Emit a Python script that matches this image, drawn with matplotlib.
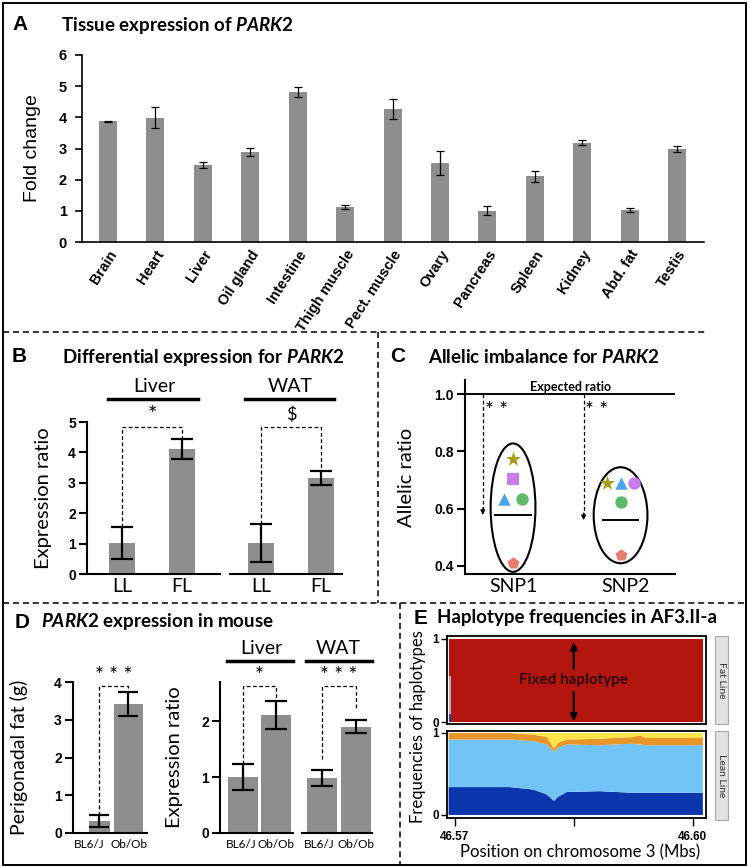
import numpy as np
import matplotlib
matplotlib.use('Agg')
import matplotlib.pyplot as plt
import matplotlib.transforms as mtrans
from matplotlib.lines import Line2D
from matplotlib.patches import Ellipse, Rectangle

# ---- data ----
# A: tissue expression
tissues = ['Brain', 'Heart', 'Liver', 'Oil gland', 'Intestine', 'Thigh muscle', 'Pect. muscle',
           'Ovary', 'Pancreas', 'Spleen', 'Kidney', 'Abd. fat', 'Testis']
tissue_fc = [3.87, 3.99, 2.47, 2.89, 4.80, 1.12, 4.27, 2.54, 1.01, 2.11, 3.19, 1.03, 2.98]
tissue_err = [0.02, 0.33, 0.09, 0.13, 0.16, 0.07, 0.32, 0.38, 0.15, 0.17, 0.08, 0.07, 0.10]

# B: differential expression, lean line (LL) vs fat line (FL)
lines_b = ['LL', 'FL']
b_liver = [1.03, 4.11]
b_liver_err = [0.53, 0.34]
b_wat = [1.02, 3.15]
b_wat_err = [0.64, 0.23]

# C: allelic imbalance
snps = ['SNP1', 'SNP2']
snp1_vals = [0.773, 0.703, 0.633, 0.633, 0.41]
snp2_vals = [0.69, 0.69, 0.69, 0.624, 0.44]
snp_means = [0.578, 0.56]
expected_ratio = 1.0

# D: mouse
strains = ['BL6/J', 'Ob/Ob']
d_fat = [0.32, 3.42]
d_fat_err = [0.15, 0.31]
d_liver = [1.0, 2.11]
d_liver_err = [0.23, 0.25]
d_wat = [0.98, 1.90]
d_wat_err = [0.14, 0.12]

# E: haplotype frequencies (Mbs)
fat_pos = [46.5692, 46.5695, 46.6013]
fat_blue = [0.10, 0.0, 0.0]
fat_grey = [0.45, 0.0, 0.0]
fat_red = [0.45, 1.0, 1.0]
lean_pos = [46.5692, 46.5769, 46.5799, 46.5816, 46.5825, 46.5830, 46.5841, 46.5883,
            46.5925, 46.5933, 46.5942, 46.6013]
lean_dark = [0.34, 0.34, 0.31, 0.25, 0.17, 0.22, 0.28, 0.29, 0.27, 0.27, 0.27, 0.27]
lean_light = [0.58, 0.58, 0.59, 0.61, 0.60, 0.60, 0.58, 0.56, 0.60, 0.59, 0.58, 0.58]
lean_orange = [0.08, 0.08, 0.08, 0.09, 0.04, 0.06, 0.06, 0.08, 0.08, 0.11, 0.09, 0.09]
lean_yellow = [0.00, 0.00, 0.02, 0.05, 0.19, 0.12, 0.08, 0.07, 0.05, 0.03, 0.06, 0.06]

# ---- style ----
W, H = 749, 867
BAR = '#8e8e8e'
CAL = 'Lato'              # closest thing to Calibri here
ARB = 'Liberation Sans'   # Arial metric clone
plt.rcParams['mathtext.fontset'] = 'custom'
plt.rcParams['mathtext.it'] = 'Lato:italic:bold'
plt.rcParams['mathtext.rm'] = 'Lato:bold'

fig = plt.figure(figsize=(W / 100, H / 100), dpi=100)


def fx(x):
    return x / W


def fy(y):
    return 1 - y / H


def add_ax(l, t, r, b):
    # axes placed by pixel box (left, top, right, bottom)
    return fig.add_axes([fx(l), fy(b), (r - l) / W, (b - t) / H])


def fline(xs, ys, **kw):
    fig.add_artist(Line2D([fx(x) for x in xs], [fy(y) for y in ys],
                          transform=fig.transFigure, **kw))


def ftext(x, y, s, **kw):
    fig.text(fx(x), fy(y), s, **kw)


def style_ax(ax, left=True, lw=1.5):
    for s in ['top', 'right']:
        ax.spines[s].set_visible(False)
    ax.spines['bottom'].set_linewidth(lw)
    if left:
        ax.spines['left'].set_linewidth(lw)
    else:
        ax.spines['left'].set_visible(False)
        ax.set_yticks([])
    ax.tick_params(axis='x', length=0)
    ax.tick_params(axis='y', width=lw)


def bold_ticks(ax, size=10):
    for t in ax.get_yticklabels():
        t.set_fontweight('bold')
        t.set_fontsize(size)
        t.set_family(ARB)


def bracket(ax, x0, x1, y0, y1, top, label, off=8, size=15):
    ax.plot([x0, x0, x1, x1], [y0, top, top, y1], ls=(0, (3, 2)), color='k', lw=0.9, clip_on=False)
    ax.annotate(label, xy=((x0 + x1) / 2, top), xytext=(0, off), textcoords='offset points',
                ha='center', va='center', fontsize=size, family=CAL, annotation_clip=False)


def header(xc, x0, x1, y, s):
    ftext(xc, y, s, ha='center', va='center', fontsize=14, family=CAL)
    fline([x0, x1], [y + 12, y + 12], color='k', lw=2.5)


def shift_label(ax, i, dx):
    lab = ax.get_xticklabels()[i]
    lab.set_transform(lab.get_transform() + mtrans.ScaledTranslation(dx / 100, 0, fig.dpi_scale_trans))


# ---- frame and dividers ----
dash = dict(color='k', lw=1.1, ls=(0, (4, 2.5)))
fline([3, 746, 746, 3, 3], [3, 3, 865, 865, 3], color='k', lw=1.4)
fline([3, 705], [332, 332], **dash)
fline([378, 378], [332, 603], **dash)
fline([3, 746], [603, 603], **dash)
fline([400, 400], [603, 865], **dash)

# panel letters and titles
for lx, ly, letter in [(20, 25, 'A'), (19, 357, 'B'), (398, 357, 'C'), (22, 622, 'D'), (421, 618, 'E')]:
    ftext(lx, ly, letter, ha='center', va='center', fontsize=15, fontweight='bold', family=ARB)
ttl = dict(ha='left', va='center', fontsize=13.5, fontweight='bold', family=CAL)
ftext(61, 25, r'Tissue expression of $\mathit{PARK2}$', **ttl)
ftext(62, 357, r'Differential expression for $\mathit{PARK2}$', **ttl)
ftext(428, 357, r'Allelic imbalance for $\mathit{PARK2}$', **ttl)
ftext(41, 622, r'$\mathit{PARK2}$ expression in mouse', **ttl)
ftext(437, 618, 'Haplotype frequencies in AF3.II-a', **ttl)

# ---- A ----
axA = add_ax(82, 55, 704, 242)
xa = np.arange(len(tissues))
axA.bar(xa, tissue_fc, width=0.38, color=BAR, yerr=tissue_err, capsize=3,
        error_kw=dict(elinewidth=0.9, capthick=0.9, ecolor='k'))
axA.set_xlim(-0.55, len(tissues) - 0.43)
axA.set_ylim(0, 6)
style_ax(axA, lw=1.2)
axA.set_yticks(range(7))
axA.tick_params(axis='y', length=5, pad=6)
bold_ticks(axA, 10.5)
axA.set_xticks(xa)
axA.set_xticklabels(tissues, rotation=57, ha='right', rotation_mode='anchor',
                    fontweight='bold', fontsize=10.5, family=ARB)
axA.tick_params(axis='x', pad=4)
axA.set_ylabel('Fold change', fontsize=14, family=ARB)
axA.yaxis.set_label_coords(-0.066, 0.5)

# ---- B ----
ebar = dict(elinewidth=1.6, capthick=1.6, ecolor='k')
axB1 = add_ax(87, 422, 220, 574)
axB2 = add_ax(230, 422, 342, 574)
for ax, vals, errs, xl, mark in [(axB1, b_liver, b_liver_err, (-0.583, 1.633), '*'),
                                 (axB2, b_wat, b_wat_err, (-0.517, 1.35), '$')]:
    xb = np.arange(len(lines_b))
    ax.bar(xb, vals, width=0.42, color=BAR, yerr=errs, capsize=8, error_kw=ebar)
    ax.set_xlim(*xl)
    ax.set_ylim(0, 5)
    ax.set_xticks(xb)
    ax.set_xticklabels(lines_b, fontsize=14, family=CAL)
    bracket(ax, 0, 1, vals[0] + errs[0], vals[1] + errs[1], 4.83, mark, off=9,
            size=16 if mark == '*' else 13)
style_ax(axB1)
style_ax(axB2, left=False)
axB1.tick_params(axis='y', length=6, pad=2)
bold_ticks(axB1)
for ax in (axB1, axB2):
    ax.tick_params(axis='x', pad=3)
axB1.set_ylabel('Expression ratio', fontsize=14.5, family=CAL)
axB1.yaxis.set_label_coords(-0.26, 0.5)
header(154, 108, 198, 387, 'Liver')
header(290, 245, 334, 387, 'WAT')

# ---- C ----
axC = add_ax(465, 380, 675, 574)
axC.set_xlim(0.571, 2.446)
axC.set_ylim(0.372, 1.049)
style_ax(axC)
axC.axhline(expected_ratio, color='k', lw=1.4)
axC.text(1.51, expected_ratio + 0.004, 'Expected ratio', ha='center', va='bottom',
         fontsize=9, fontweight='bold', family=CAL)
markers = [['*', 's', '^', 'o', 'p'], ['*', '^', 'o', 'o', 'p']]
colors = [['#a89c16', '#c77ee8', '#4ba3ee', '#5fb96a', '#e47e6f'],
          ['#a89c16', '#4ba3ee', '#c77ee8', '#5fb96a', '#e47e6f']]
jitter = [[0, 0, -0.08, 0.08, 0], [-0.16, -0.04, 0.08, -0.04, -0.04]]
centre = [0.0, -0.04]
arrow_dx = [-0.27, -0.37]
for i, vals in enumerate([snp1_vals, snp2_vals]):
    xg = i + 1
    for v, m, c, j in zip(vals, markers[i], colors[i], jitter[i]):
        axC.scatter(xg + j, v, marker=m, color=c, s=130 if m == '*' else 80, zorder=3, lw=0)
    xs = [xg + j for j in jitter[i]]
    ew = max(xs) - min(xs) + 0.24
    eh = max(vals) - min(vals) + 0.085
    axC.add_patch(Ellipse((xg + centre[i], (max(vals) + min(vals)) / 2 + 0.012), ew, eh,
                          fill=False, ec='k', lw=1.5))
    axC.plot([xg + centre[i] - 0.16, xg + centre[i] + 0.16], [snp_means[i]] * 2, color='k', lw=1.4)
    xa_ = xg + arrow_dx[i]
    axC.plot([xa_, xa_], [expected_ratio, snp_means[i] + 0.02], ls=(0, (3, 2)), color='k', lw=0.9)
    axC.annotate('', xy=(xa_, snp_means[i]), xytext=(xa_, snp_means[i] + 0.025),
                 arrowprops=dict(arrowstyle='-|>', color='k', lw=0.8, mutation_scale=7,
                                 shrinkA=0, shrinkB=0))
    axC.text(xa_ + 0.12, 0.94, '* *', ha='center', va='center', fontsize=15, family=CAL)
axC.set_yticks([0.4, 0.6, 0.8, 1.0])
axC.set_yticklabels(['0.4', '0.6', '0.8', '1.0'])
axC.tick_params(axis='y', length=6, pad=2)
bold_ticks(axC)
axC.set_xticks([1, 2])
axC.set_xticklabels(snps, fontsize=14, family=CAL)
axC.tick_params(axis='x', pad=3)
axC.set_ylabel('Allelic ratio', fontsize=14.5, family=CAL)
axC.yaxis.set_label_coords((415 - 465) / 210, 0.5)

# ---- D ----
axD1 = add_ax(73, 682, 147, 833)
xd = np.arange(len(strains))
axD1.bar(xd, d_fat, width=[0.72, 1.0], color=BAR, yerr=d_fat_err, capsize=7, error_kw=ebar)
axD1.set_xlim(-0.914, 1.64)
axD1.set_ylim(0, 4)
style_ax(axD1)
axD1.set_yticks(range(5))
axD1.tick_params(axis='y', length=6, pad=2)
bold_ticks(axD1)
bracket(axD1, 0, 1, d_fat[0] + d_fat_err[0], d_fat[1] + d_fat_err[1], 3.89, '* * *', off=7.5)
axD1.set_ylabel('Perigonadal fat (g)', fontsize=14, family=CAL)
axD1.yaxis.set_label_coords((28 - 73) / 74, 0.5)

axD2 = add_ax(220, 682, 293, 833)
axD3 = add_ax(302, 682, 372, 833)
for ax, vals, errs, xl, mark, gap in [(axD2, d_liver, d_liver_err, (-0.70, 1.52), '*', 0.0),
                                      (axD3, d_wat, d_wat_err, (-0.59, 1.47), '* * *', 0.2)]:
    ax.bar(xd, vals, width=0.9, color=BAR, yerr=errs, capsize=8, error_kw=ebar)
    ax.set_xlim(*xl)
    ax.set_ylim(0, 2.7)
    bracket(ax, 0, 1, vals[0] + errs[0] + gap, vals[1] + errs[1] + gap, 2.62, mark, off=7.5)
style_ax(axD2)
style_ax(axD3, left=False)
axD2.set_yticks([0, 1, 2])
axD2.tick_params(axis='y', length=6, pad=2)
bold_ticks(axD2)
axD2.set_ylabel('Expression ratio', fontsize=14.5, family=CAL)
axD2.yaxis.set_label_coords((183 - 220) / 73, 0.5)
for ax in (axD1, axD2, axD3):
    ax.set_xticks(xd)
    ax.set_xticklabels(strains, fontsize=8.5, family=CAL)
    ax.tick_params(axis='x', pad=4)
shift_label(axD1, 0, -10)
shift_label(axD1, 1, 1)
shift_label(axD2, 0, -2)
shift_label(axD3, 0, -3)

header(261, 227, 293, 649, 'Liver')
header(338, 306, 372, 649, 'WAT')

# ---- E ----
xlE = (46.5690, 46.6017)
axE1 = add_ax(447, 636, 706, 724)
axE1.stackplot(fat_pos, fat_blue, fat_grey, fat_red, colors=['#1f3fae', '#b9aec9', '#b5150f'],
               step='post', lw=0)
axE1.set_ylim(-0.024, 1.036)
axE2 = add_ax(447, 731, 706, 818)
axE2.stackplot(lean_pos, lean_dark, lean_light, lean_orange, lean_yellow,
               colors=['#0a35ad', '#72c4f7', '#e8962a', '#fde545'], lw=0)
axE2.set_ylim(-0.037, 1.024)
for ax in (axE1, axE2):
    ax.set_xlim(*xlE)
    for s in ax.spines.values():
        s.set_linewidth(1.3)
    ax.set_yticks([0, 1])
    ax.tick_params(axis='y', length=4, width=1, pad=2)
    bold_ticks(ax, 8.5)
axE1.set_xticks([])
axE2.set_xticks([46.57, 46.585, 46.60])
axE2.set_xticklabels(['46.57', '', '46.60'], fontweight='bold', fontsize=8.5, family=ARB)
axE2.tick_params(axis='x', length=6, width=1, pad=3)
axE1.text(46.585, 0.5, 'Fixed haplotype', ha='center', va='center', fontsize=11,
          fontweight='bold', family=CAL, color='#2a0505')
arr = dict(arrowstyle='-|>', color='k', lw=1.6, mutation_scale=10, shrinkA=0, shrinkB=0)
axE1.annotate('', xy=(46.585, 0.96), xytext=(46.585, 0.64), arrowprops=arr)
axE1.annotate('', xy=(46.585, 0.01), xytext=(46.585, 0.36), arrowprops=arr)
ftext(418, 727, 'Frequencies of haplotypes', rotation=90, ha='center', va='center',
      fontsize=12, family=CAL)
ftext(580, 852, 'Position on chromosome 3 (Mbs)', ha='center', va='center', fontsize=12, family=CAL)
for top, bot, s in [(636, 724, 'Fat Line'), (731, 820, 'Lean Line')]:
    fig.add_artist(Rectangle((fx(715), fy(bot)), 13 / W, (bot - top) / H, transform=fig.transFigure,
                             fc='#e2e2e2', ec='#a8a8a8', lw=0.8))
    ftext(721.5, (top + bot) / 2, s, rotation=270, ha='center', va='center', fontsize=7.5,
          family=CAL, color='#333333')

fig.savefig('out.png', dpi=100)
